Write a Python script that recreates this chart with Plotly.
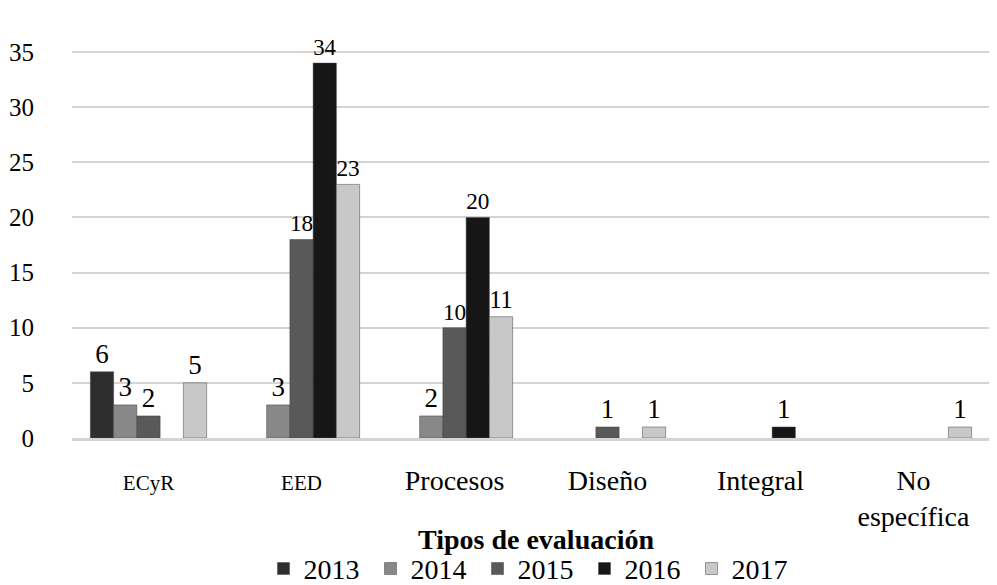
import plotly.graph_objects as go

categories = ["ECyR", "EED", "Procesos", "Diseño", "Integral", "No<br>específica"]
years = ["2013", "2014", "2015", "2016", "2017"]
v2013 = [6, None, None, None, None, None]
v2014 = [3, 3, 2, None, None, None]
v2015 = [2, 18, 10, 1, None, None]
v2016 = [None, 34, 20, None, 1, None]
v2017 = [5, 23, 11, 1, None, 1]
series = [v2013, v2014, v2015, v2016, v2017]
colors = ["#2e2e2e", "#888888", "#595959", "#161616", "#c8c8c8"]
axis_title = "Tipos de evaluación"

FONT = "Liberation Serif"
fig = go.Figure()
for name, vals, col in zip(years, series, colors):
    fig.add_trace(go.Bar(
        name=name, x=categories, y=vals,
        marker=dict(color=col, line=dict(color="#444444", width=0.5)),
        text=[("" if v is None else str(v)) for v in vals],
        textposition="outside", cliponaxis=False,
        textfont=dict(family=FONT, size=27, color="#000000"),
    ))

ticktext = ["<span style='font-size:21px'>ECyR</span>",
            "<span style='font-size:21px'>EED</span>",
            "Procesos", "Diseño", "Integral", "No<br>específica"]

fig.add_annotation(
    text="<b>" + axis_title + "</b>", xref="paper", yref="paper",
    x=0.505, y=-0.248, xanchor="center", yanchor="middle", showarrow=False,
    font=dict(family=FONT, size=28, color="#000000"),
)

fig.update_layout(
    width=989, height=577,
    margin=dict(l=64, r=7, t=22, b=147, autoexpand=False),
    paper_bgcolor="white", plot_bgcolor="white",
    barmode="group", bargap=0.24, bargroupgap=0,
    font=dict(family=FONT, size=28, color="#000000"),
    showlegend=True,
    legend=dict(orientation="h", x=0.5, xanchor="center",
                yref="container", y=0.028, yanchor="middle",
                font=dict(family=FONT, size=28), itemwidth=30,
                entrywidth=62, entrywidthmode="pixels", tracegroupgap=0,
                bgcolor="rgba(0,0,0,0)"),
    xaxis=dict(
        tickmode="array", tickvals=categories, ticktext=ticktext,
        showgrid=False, showline=True, linecolor="#d4d4d4", linewidth=3,
        ticks="", ticklabelstandoff=15, automargin=False,
    ),
    yaxis=dict(
        range=[0, 37], tickvals=[0, 5, 10, 15, 20, 25, 30, 35],
        tickfont=dict(family=FONT, size=25),
        showgrid=True, gridcolor="#d4d4d4", gridwidth=2,
        zeroline=False, showline=False, ticks="", ticklabelstandoff=37,
        automargin=False,
    ),
)
fig.write_html("out.html")
